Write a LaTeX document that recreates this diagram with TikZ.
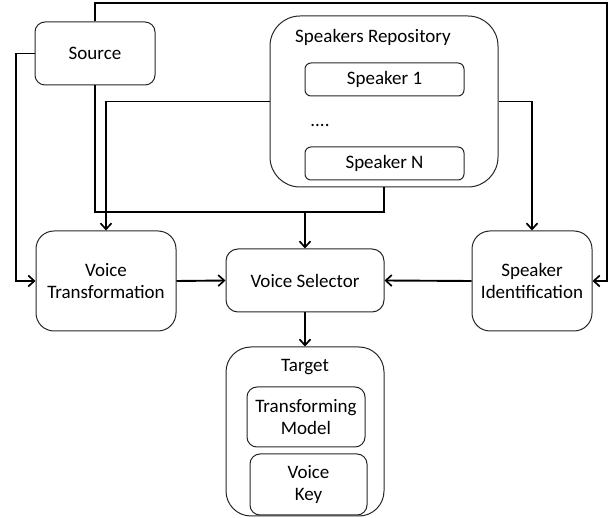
\documentclass[tikz,border=0pt]{standalone}
\usepackage{fontspec}
\setmainfont{Carlito}
\usetikzlibrary{arrows.meta}
\begin{document}
\begin{tikzpicture}[x=1pt,y=-1pt,
  box/.style={draw=black!85,line width=1pt,inner sep=0pt,align=center,font=\fontsize{19}{21.7}\selectfont},
  lbl/.style={inner sep=0pt,font=\fontsize{19}{21.7}\selectfont},
  conn/.style={line width=1.9pt,black},
  arr/.style={conn,-{Straight Barb[length=6pt,width=11pt,line width=1.7pt]}}]
\useasboundingbox (0,0) rectangle (611,518);
% boxes
\node[box,rounded corners=10pt,minimum width=120pt,minimum height=63pt] (Source) at (95,53.5) {Source};
\node[box,rounded corners=30pt,minimum width=228pt,minimum height=171pt] (SR) at (384,101.5) {};
\node[lbl] (SRt) at (373,37) {Speakers Repository};
\node[box,rounded corners=6pt,minimum width=159pt,minimum height=33pt] (S1) at (384.5,79.5) {Speaker 1};
\node[lbl] (dots) at (320,126) {....};
\node[box,rounded corners=6pt,minimum width=159pt,minimum height=33pt] (SN) at (384.5,163.5) {Speaker N};
\node[box,rounded corners=18pt,minimum width=140pt,minimum height=100pt] (VT) at (106,281) {Voice\\Transformation};
\node[box,rounded corners=12pt,minimum width=158pt,minimum height=63pt] (VS) at (305,280.5) {Voice Selector};
\node[box,rounded corners=18pt,minimum width=120pt,minimum height=100pt] (SI) at (532,281) {Speaker\\Identification};
\node[box,rounded corners=25pt,minimum width=158pt,minimum height=169pt] (T) at (305,431.5) {};
\node[lbl] (Tt) at (305,367) {Target};
\node[box,rounded corners=10pt,minimum width=118pt,minimum height=60pt] (TM) at (306,417) {Transforming\\Model};
\node[box,rounded corners=10pt,minimum width=117pt,minimum height=61pt] (VK) at (308.5,484.5) {Voice\\Key};
% helper coordinates
\coordinate (tr) at (607,3);
\coordinate (lf) at (16,53.5);
\coordinate (j) at (305,212);
% connectors
\draw[arr] (Source.north) |- (tr) |- (SI.east);
\draw[arr] (Source.west) -- (lf) |- (VT.west);
\draw[arr] (SR.west) -| (VT.north);
\draw[arr] (Source.south) |- (j) -- (VS.north);
\draw[conn] (SR.south) |- (j);
\draw[arr] (SR.east) -| (SI.north);
\draw[arr] (VT.east) -- (VS.west);
\draw[arr] (SI.west) -- (VS.east);
\draw[arr] (VS.south) -- (T.north);
\end{tikzpicture}
\end{document}
